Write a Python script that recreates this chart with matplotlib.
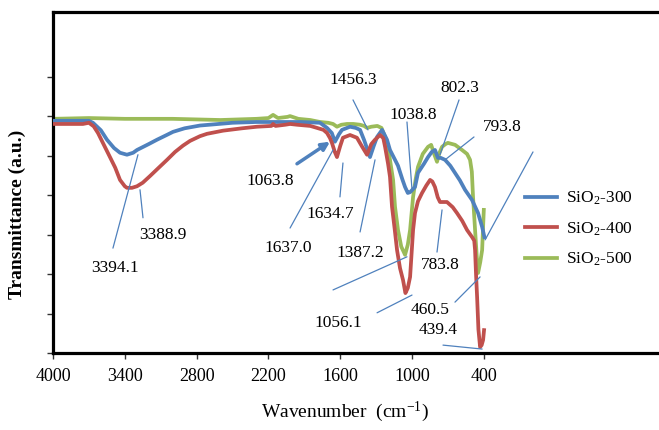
import matplotlib
matplotlib.use("Agg")
import matplotlib.pyplot as plt

plt.rcParams['font.family'] = ['Liberation Serif', 'DejaVu Serif']
plt.rcParams['mathtext.fontset'] = 'custom'
plt.rcParams['mathtext.rm'] = 'Liberation Serif'
plt.rcParams['mathtext.it'] = 'Liberation Serif:italic'
plt.rcParams['mathtext.bf'] = 'Liberation Serif:bold'

# FTIR spectra (wavenumber cm-1, transmittance a.u.)
wn_300 = [4000, 3800, 3700, 3666, 3600, 3549, 3490, 3440, 3382, 3330, 3298, 3200, 3131, 3050,
          2997, 2900, 2772, 2500, 2300, 2161, 2100, 1936, 1769, 1710, 1670, 1644, 1610, 1585,
          1518, 1470, 1434, 1400, 1351, 1320, 1292, 1250, 1209, 1184, 1142, 1117, 1080, 1058,
          1035, 1016, 975, 950, 900, 866, 835, 808, 783, 760, 724, 680, 641, 600, 557, 498,
          448, 414, 395]
t_300 = [58.9, 58.9, 58.9, 58.4, 56.5, 54.1, 52.0, 50.8, 50.3, 50.8, 51.5, 53.0, 54.1, 55.3,
         56.1, 57.0, 57.7, 58.4, 58.6, 58.6, 58.6, 58.6, 58.4, 57.1, 55.8, 53.6, 55.5, 56.6,
         57.4, 57.1, 56.6, 54.0, 49.7, 52.5, 54.8, 56.6, 54.1, 51.5, 49.0, 47.5, 44.0, 42.1,
         40.6, 40.8, 42.1, 45.7, 48.0, 49.7, 51.0, 51.5, 49.5, 49.5, 49.0, 47.5, 45.7, 43.8,
         41.4, 38.8, 35.5, 32.0, 29.4]

wn_400 = [4000, 3850, 3750, 3700, 3660, 3624, 3570, 3524, 3480, 3440, 3400, 3382, 3340, 3298,
          3250, 3189, 3120, 3047, 2980, 2914, 2855, 2772, 2713, 2579, 2420, 2295, 2175, 2161,
          2140, 2060, 2019, 1960, 1850, 1794, 1740, 1710, 1685, 1669, 1645, 1627, 1600, 1577,
          1518, 1460, 1420, 1376, 1340, 1309, 1267, 1240, 1225, 1200, 1184, 1167, 1145, 1125,
          1100, 1075, 1055, 1035, 1016, 991, 975, 950, 916, 880, 849, 830, 808, 785, 766, 740,
          708, 660, 624, 580, 540, 498, 480, 473, 465, 456, 445, 431, 418, 406, 398]
t_400 = [58.1, 58.1, 58.1, 58.4, 57.5, 55.8, 52.5, 49.7, 47.0, 43.9, 42.3, 41.9, 41.9, 42.3,
         43.2, 44.9, 46.9, 49.0, 51.0, 52.6, 53.8, 55.0, 55.6, 56.4, 57.0, 57.4, 57.6, 58.1,
         57.6, 57.9, 58.1, 57.9, 57.6, 57.1, 56.6, 55.8, 54.5, 53.3, 51.0, 49.7, 52.5, 54.6,
         55.3, 54.6, 52.5, 50.3, 53.0, 54.1, 55.3, 54.5, 52.3, 48.0, 44.7, 37.1, 31.5, 26.1,
         21.5, 18.5, 15.2, 16.5, 19.3, 31.2, 35.5, 38.5, 40.6, 42.5, 43.9, 43.5, 42.1, 39.5,
         38.3, 38.3, 38.3, 37.0, 35.5, 33.5, 31.2, 29.4, 28.5, 26.1, 20.0, 14.2, 6.0, 1.5,
         2.0, 3.3, 5.8]

wn_500 = [4000, 3700, 3400, 3000, 2600, 2300, 2200, 2161, 2120, 2040, 2019, 1950, 1850, 1769,
          1700, 1660, 1627, 1590, 1543, 1490, 1434, 1400, 1376, 1340, 1290, 1255, 1225, 1200,
          1184, 1158, 1142, 1117, 1090, 1058, 1035, 1016, 991, 970, 950, 910, 866, 840, 815,
          791, 770, 749, 720, 700, 640, 582, 540, 515, 500, 490, 473, 460, 448, 430, 414, 400]
t_500 = [59.4, 59.6, 59.4, 59.4, 59.1, 59.4, 59.6, 60.4, 59.6, 59.9, 60.1, 59.4, 59.1, 58.6,
         58.4, 58.1, 57.4, 57.9, 58.1, 58.1, 57.9, 57.6, 57.1, 57.4, 57.6, 57.1, 54.8, 52.0,
         49.0, 43.9, 37.1, 31.2, 27.0, 24.9, 27.5, 31.2, 39.6, 44.0, 47.2, 50.5, 52.3, 52.8,
         50.5, 48.5, 50.8, 52.3, 53.0, 53.3, 52.8, 51.5, 50.5, 49.0, 46.0, 39.6, 31.2, 25.0,
         20.3, 23.0, 26.1, 36.3]

series_labels = ['SiO$_2$-300', 'SiO$_2$-400', 'SiO$_2$-500']
x_ticks = [4000, 3400, 2800, 2200, 1600, 1000, 400]

# peak labels: text, text position, leader line start, leader line end
peak_labels = [
    ('3394.1', (3482, 21.6), (3499, 26.6), (3290, 50.3)),
    ('3388.9', (3081, 29.9), (3248, 34.3), (3273, 41.4)),
    ('1637.0', (2036, 26.6), (2019, 31.7), (1660, 51.5)),
    ('1634.7', (1685, 35.3), (1602, 39.6), (1577, 48.2)),
    ('1387.2', (1434, 25.4), (1434, 30.7), (1309, 49.0)),
    ('1456.3', (1493, 69.3), (1493, 64.2), (1368, 56.6)),
    ('1038.8', (991, 60.4), (1042, 58.6), (1000, 41.4)),
    ('802.3', (599, 67.3), (607, 64.2), (766, 50.3)),
    ('793.8', (248, 57.4), (482, 54.8), (724, 49.0)),
    ('783.8', (766, 22.3), (791, 25.6), (749, 36.3)),
    ('', None, (-11, 51.0), (389, 28.7)),
    ('1056.1', (1618, 7.6), (1292, 10.2), (1000, 14.7)),
    ('', None, (1660, 16.0), (1042, 24.4)),
    ('460.5', (849, 10.9), (641, 12.9), (431, 19.3)),
    ('439.4', (783, 5.8), (741, 2.0), (414, 1.0)),
]

fig = plt.figure(figsize=(6.59, 4.30), dpi=100)
ax = fig.add_axes([53/659, (430-353)/430, 606/659, 341/430])

ax.plot(wn_300, t_300, color='#4F81BD', lw=2.7, label=series_labels[0], zorder=3)
ax.plot(wn_400, t_400, color='#C0504D', lw=2.7, label=series_labels[1], zorder=3)
ax.plot(wn_500, t_500, color='#9BBB59', lw=2.7, label=series_labels[2], zorder=2)

for txt, pos, p0, p1 in peak_labels:
    ax.annotate('', xy=p1, xytext=p0,
                arrowprops=dict(arrowstyle='-', color='#4F81BD', lw=0.9, shrinkA=0, shrinkB=0))
    if txt:
        ax.text(pos[0], pos[1], txt, fontsize=12.5, ha='center', va='center')

# the thick arrow for 1063.8
ax.text(2187, 43.7, '1063.8', fontsize=12.5, ha='center', va='center')
ax.annotate('', xy=(1685, 53.6), xytext=(1961, 48.0),
            arrowprops=dict(arrowstyle='-|>', color='#4F81BD', lw=2.5,
                            mutation_scale=12, shrinkA=0, shrinkB=0))

ax.set_xlim(4000, -1064)
ax.set_ylim(0, 86.5)
ax.set_xticks(x_ticks)
ax.set_xticklabels([str(v) for v in x_ticks], fontsize=13)
ax.set_yticks(range(0, 80, 10))
ax.set_yticklabels([])
ax.tick_params(axis='both', direction='out', length=4, width=1, color='#333333')
ax.tick_params(axis='x', pad=7)

for side in ['left', 'bottom', 'top']:
    ax.spines[side].set_linewidth(2.3)
    ax.spines[side].set_color('black')
ax.spines['right'].set_visible(False)

ax.set_xlabel('Wavenumber  (cm$^{-1}$)', fontsize=14, va='center')
ax.xaxis.set_label_coords((345-53)/606, (353-412)/341)
ax.set_ylabel('Transmittance (a.u.)', fontsize=14, fontweight='bold', va='center')
ax.yaxis.set_label_coords((17-53)/606, (353-214)/341)

ax.legend(loc='upper left', bbox_to_anchor=(525/659, 1-190/430),
          bbox_transform=fig.transFigure, frameon=False, fontsize=12.5,
          handlelength=1.85, handletextpad=0.5, labelspacing=0.75,
          borderpad=0, borderaxespad=0)

fig.savefig('out.png', dpi=100)
